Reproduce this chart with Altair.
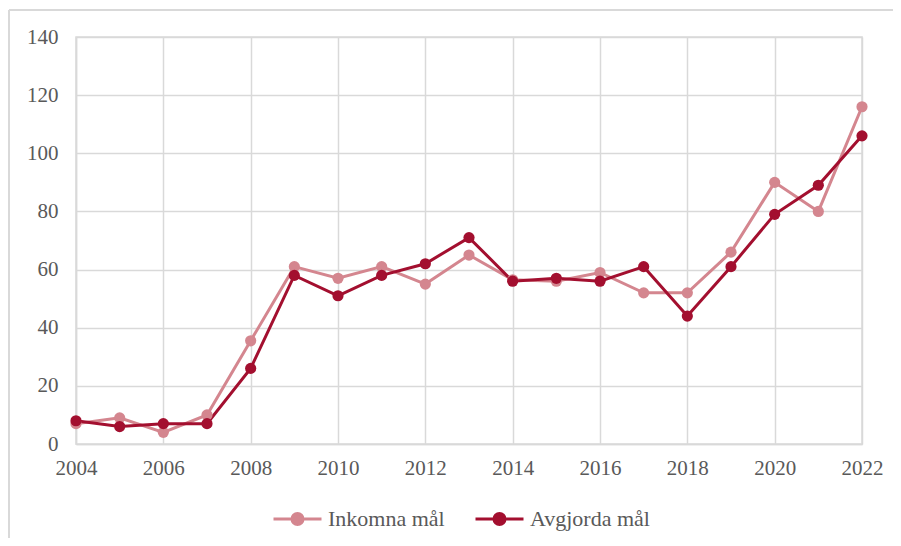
import altair as alt
import pandas as pd

years = list(range(2004, 2023))
inkomna = [7, 9, 4, 10, 35.5, 61, 57, 61, 55, 65, 56.5, 56, 59, 52, 52, 66, 90, 80, 116]
avgjorda = [8, 6, 7, 7, 26, 58, 51, 58, 62, 71, 56, 57, 56, 61, 44, 61, 79, 89, 106]
series_names = ["Inkomna mål", "Avgjorda mål"]
series_colors = ["#D4868F", "#A30F2F"]
x_ticks = list(range(2004, 2023, 2))
y_ticks = list(range(0, 141, 20))

rows = []
for y, a, b in zip(years, inkomna, avgjorda):
    rows.append({"year": y, "value": a, "serie": series_names[0]})
    rows.append({"year": y, "value": b, "serie": series_names[1]})
df = pd.DataFrame(rows)

FONT = "'Liberation Serif', 'Times New Roman', serif"
GRAY = "#595959"
GRID = "#D9D9D9"

sym_path = "M-1,0L1,0M-0.23,0A0.23,0.23,0,1,1,0.23,0A0.23,0.23,0,1,1,-0.23,0Z"

leg = alt.Legend(
    title=None, orient="none", direction="horizontal", legendX=196, legendY=456,
    symbolType=sym_path, symbolSize=2304, symbolStrokeWidth=3,
    labelFont=FONT, labelFontSize=22, labelColor=GRAY,
    columnPadding=24, labelOffset=5,
)
cscale = alt.Scale(domain=series_names, range=series_colors)

xenc = alt.X("year:Q", scale=alt.Scale(domain=[2004, 2022], nice=False),
             axis=alt.Axis(values=x_ticks, format="d", title=None, ticks=False,
                           labelPadding=13, grid=True, labelFlush=False, labelBound=False))
yenc = alt.Y("value:Q", scale=alt.Scale(domain=[0, 140], nice=False),
             axis=alt.Axis(values=y_ticks, title=None, ticks=False, labelPadding=18, grid=True))

lines = alt.Chart(df).mark_line(strokeWidth=3).encode(
    x=xenc, y=yenc,
    stroke=alt.Stroke("serie:N", scale=cscale, sort=series_names, legend=leg),
    order=alt.Order("year:Q"),
)
points = alt.Chart(df).mark_point(filled=True, size=125, opacity=1).encode(
    x=xenc, y=yenc,
    fill=alt.Fill("serie:N", scale=cscale, sort=series_names, legend=leg),
)

border_top = alt.Chart(pd.DataFrame({"k": [0]})).mark_rule(color=GRID, strokeWidth=2).encode(
    x=alt.value(-67), x2=alt.value(900), y=alt.value(-27))
border_left = alt.Chart(pd.DataFrame({"k": [0]})).mark_rule(color=GRID, strokeWidth=2).encode(
    x=alt.value(-67), y=alt.value(-27), y2=alt.value(600))

chart = alt.layer(border_top, border_left, lines, points).properties(
    width=786, height=407,
    autosize=alt.AutoSizeParams(type="none"),
    padding={"left": 68, "top": 29, "right": 31, "bottom": 94},
).configure_axis(
    labelFont=FONT, labelFontSize=21, labelColor=GRAY,
    gridColor=GRID, gridWidth=1.5, domainColor=GRID, domainWidth=1.5,
).configure_view(stroke=GRID, strokeWidth=1.5)

chart.save("out.html", embed_options={"renderer": "svg", "actions": False})
